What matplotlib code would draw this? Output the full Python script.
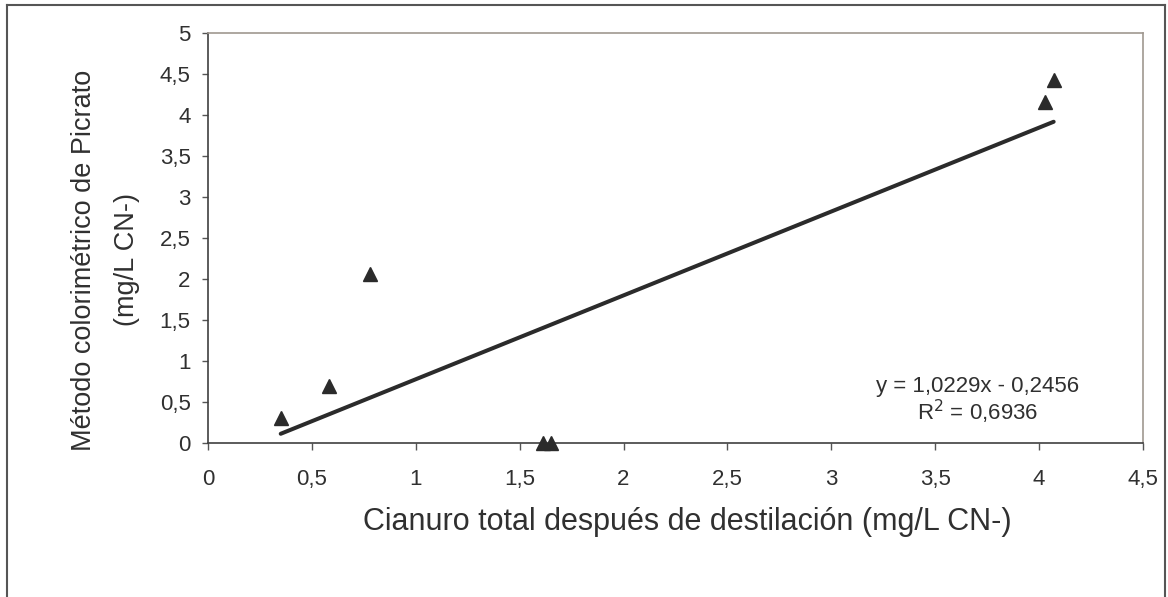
import numpy as np
import matplotlib.pyplot as plt
from matplotlib.lines import Line2D

plt.rcParams['font.family'] = ['Liberation Sans', 'DejaVu Sans']

# datos
cianuro_total = [0.35, 0.58, 0.78, 1.61, 1.65, 4.03, 4.07]
picrato = [0.30, 0.70, 2.06, 0.0, 0.0, 4.16, 4.43]
pendiente = 1.0229
intercepto = -0.2456
r2 = 0.6936
x_ticks = [0, 0.5, 1, 1.5, 2, 2.5, 3, 3.5, 4, 4.5]
y_ticks = [0, 0.5, 1, 1.5, 2, 2.5, 3, 3.5, 4, 4.5, 5]


def coma(v):
    return f"{v:g}".replace('.', ',')


W, H = 1168, 597
fig = plt.figure(figsize=(W / 100, H / 100), dpi=100)
ax = fig.add_axes([208 / W, 1 - 443 / H, (1143 - 208) / W, (443 - 33) / H])

txt = '#303030'
ax.plot(cianuro_total, picrato, linestyle='none', marker='^', markersize=9.5,
        color='#2b2b2b', clip_on=False, zorder=5)

xs = np.array([min(cianuro_total), max(cianuro_total)])
ax.plot(xs, pendiente * xs + intercepto, color='#2b2b2b', lw=2.9,
        solid_capstyle='round')

ax.set_xlim(0, 4.5)
ax.set_ylim(0, 5)
ax.set_xticks(x_ticks)
ax.set_xticklabels([coma(v) for v in x_ticks])
ax.set_yticks(y_ticks)
ax.set_yticklabels([coma(v) for v in y_ticks])
ax.tick_params(axis='x', direction='out', length=5, width=1, colors='#555555',
               labelcolor=txt, labelsize=16, pad=14)
ax.tick_params(axis='y', direction='out', length=4.5, width=1, colors='#555555',
               labelcolor=txt, labelsize=16, pad=8)

for s in ['left', 'bottom']:
    ax.spines[s].set_color('#404040')
    ax.spines[s].set_linewidth(1.2)
for s in ['top', 'right']:
    ax.spines[s].set_color('#a09890')
    ax.spines[s].set_linewidth(1.2)

ax.set_xlabel('Cianuro total después de destilación (mg/L CN-)', fontsize=22,
              color=txt, va='center')
ax.xaxis.set_label_coords((687 - 208) / 935, (443 - 522) / 410)
ax.set_ylabel('Método colorimétrico de Picrato\n(mg/L CN-)', fontsize=19.5,
              color=txt, linespacing=1.85, va='center')
ax.yaxis.set_label_coords((106 - 208) / 935, (443 - 260) / 410)

ax.text(3.705, 0.69, f"y = {coma(pendiente)}x - {coma(-intercepto)}",
        ha='center', va='center', fontsize=16, color=txt)
ax.text(3.705, 0.38, f"R$^2$ = {coma(r2)}", ha='center', va='center',
        fontsize=16, color=txt)

# marco exterior
fc = '#555555'
fig.add_artist(Line2D([7 / W, 7 / W], [0, 1 - 5 / H], color=fc, lw=1.5))
fig.add_artist(Line2D([7 / W, 1165 / W], [1 - 5 / H, 1 - 5 / H], color=fc, lw=1.5))
fig.add_artist(Line2D([1165 / W, 1165 / W], [0, 1 - 5 / H], color=fc, lw=1.5))

fig.savefig('out.png', dpi=100)
